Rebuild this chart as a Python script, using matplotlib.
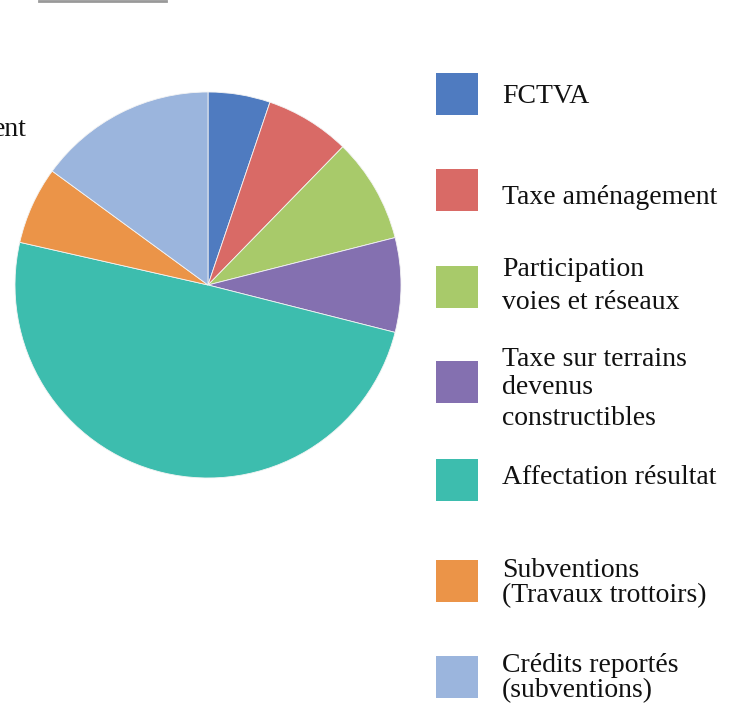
import matplotlib.pyplot as plt
from matplotlib.patches import Rectangle

# Données (parts, en %)
labels = [
    "FCTVA",
    "Taxe aménagement",
    "Participation\nvoies et réseaux",
    "Taxe sur terrains\ndevenus\nconstructibles",
    "Affectation résultat",
    "Subventions\n(Travaux trottoirs)",
    "Crédits reportés\n(subventions)",
]
values = [5.2, 7.1, 8.75, 7.9, 49.6, 6.5, 14.95]
colors = ["#4F7BC0", "#D96A66", "#A8CA6A", "#8470B0", "#3DBDAE", "#EB9448", "#9BB5DD"]

W, H = 734, 704
plt.rcParams['font.family'] = ['Liberation Serif', 'DejaVu Serif']

fig = plt.figure(figsize=(W / 100, H / 100), dpi=100)

# 1. Camembert (centre ~ (208, 285) px, rayon ~193 px)
cx, cy, r = 208, 285, 193
ax = fig.add_axes([(cx - r) / W, (H - cy - r) / H, 2 * r / W, 2 * r / H])
ax.pie(values, colors=colors, startangle=90, counterclock=False,
       wedgeprops=dict(edgecolor='#f4f4f4', linewidth=0.6))
ax.set_xlim(-1, 1)
ax.set_ylim(-1, 1)
ax.set_aspect('equal')
ax.axis('off')

# 2. Légende manuelle (carrés + textes, une ligne de base par ligne de texte)
box_y = [94, 190, 287, 382, 480, 581, 677]
baselines = [[103], [204], [276, 309], [366, 394, 425], [484], [577, 602], [672, 697]]
for lab, col, by, bl in zip(labels, colors, box_y, baselines):
    fig.patches.append(Rectangle((436 / W, (H - by - 21) / H), 42 / W, 42 / H,
                                 transform=fig.transFigure, facecolor=col,
                                 edgecolor='none'))
    for line, yb in zip(lab.split("\n"), bl):
        fig.text(502 / W, (H - yb) / H, line, fontsize=20, va='baseline',
                 ha='left', color='#111111')

# 3. Étiquette coupée à gauche et trait gris en haut
fig.text(27 / W, (H - 136) / H, "ent", fontsize=20, va='baseline', ha='right',
         color='#111111')
fig.lines.append(plt.Line2D([39 / W, 166 / W], [1 - 1 / H, 1 - 1 / H],
                            transform=fig.transFigure, color='#999999', lw=2))

fig.savefig('out.png', dpi=100)
